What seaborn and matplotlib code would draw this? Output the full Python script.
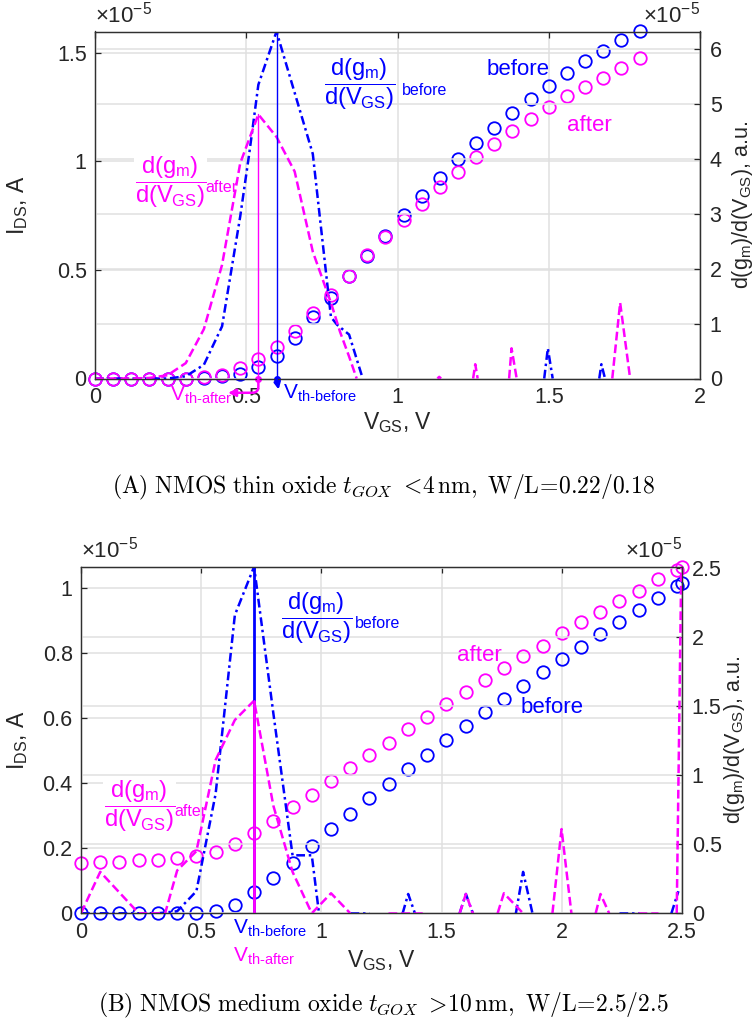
import numpy as np
import pandas as pd
import matplotlib
matplotlib.use("Agg")
import matplotlib.pyplot as plt
from matplotlib.ticker import FuncFormatter
import seaborn as sns

# ---------------- panel (A): thin oxide, W/L = 0.22/0.18 ----------------
vgs_a = [0.00, 0.06, 0.12, 0.18, 0.24, 0.30, 0.36, 0.42, 0.48, 0.54,
         0.60, 0.66, 0.72, 0.78, 0.84, 0.90, 0.96, 1.02, 1.08, 1.14,
         1.20, 1.26, 1.32, 1.38, 1.44, 1.50, 1.56, 1.62, 1.68, 1.74, 1.80]
# drain current, units of 1e-5 A
ids_before_a = [0, 0, 0, 0, 0, 0, 0.003, 0.010, 0.020, 0.053,
                0.105, 0.187, 0.281, 0.373, 0.470, 0.562, 0.655, 0.755, 0.841, 0.924,
                1.009, 1.083, 1.155, 1.224, 1.286, 1.349, 1.406, 1.460, 1.509, 1.557, 1.598]
ids_after_a = [0, 0, 0, 0, 0, 0, 0.005, 0.015, 0.047, 0.089,
               0.147, 0.221, 0.301, 0.385, 0.473, 0.567, 0.652, 0.729, 0.803, 0.880,
               0.952, 1.020, 1.080, 1.141, 1.194, 1.249, 1.300, 1.344, 1.386, 1.432, 1.474]
# d(gm)/d(VGS), units of 1e-5 a.u.; None separates visible pieces of the trace
dgm_x_before_a = [0, 0.06, 0.12, 0.18, 0.24, 0.30, 0.36, 0.42, 0.45, 0.48, 0.51, 0.54,
                  0.60, 0.72, 0.78, 0.80, 0.84, 0.885, None,
                  1.485, 1.497, 1.513, None, 1.667, 1.674, 1.686]
dgm_y_before_a = [0, 0, 0, 0, 0, 0.04, 0.25, 0.95, 1.95, 2.95, 4.10, 5.35,
                  6.32, 4.09, 1.12, 0.98, 0.80, 0, None,
                  0, 0.55, 0, None, 0, 0.26, 0]
dgm_x_after_a = [0, 0.06, 0.12, 0.18, 0.24, 0.30, 0.36, 0.42, 0.48, 0.54,
                 0.60, 0.66, 0.72, 0.78, 0.81, 0.84, 0.865, None,
                 1.132, 1.138, 1.144, None, 1.250, 1.257, 1.265, None,
                 1.369, 1.377, 1.394, None, 1.710, 1.736, 1.769]
dgm_y_after_a = [0, 0, 0, 0.01, 0.06, 0.28, 0.90, 2.07, 3.92, 4.81,
                 4.40, 3.77, 2.31, 1.38, 0.85, 0.40, 0, None,
                 0, 0.03, 0, None, 0, 0.26, 0, None,
                 0, 0.55, 0, None, 0, 1.38, 0]
vth_before_a, vth_after_a = 0.60, 0.54

# ---------------- panel (B): medium oxide, W/L = 2.5/2.5 ----------------
vgs_b = [0.00, 0.08, 0.16, 0.24, 0.32, 0.40, 0.48, 0.56, 0.64, 0.72, 0.80,
         0.88, 0.96, 1.04, 1.12, 1.20, 1.28, 1.36, 1.44, 1.52, 1.60, 1.68,
         1.76, 1.84, 1.92, 2.00, 2.08, 2.16, 2.24, 2.32, 2.40, 2.48, 2.50]
ids_before_b = [0, 0, 0, 0, 0, 0.001, 0.002, 0.008, 0.026, 0.065, 0.110,
                0.156, 0.207, 0.258, 0.306, 0.354, 0.398, 0.444, 0.488, 0.533, 0.576, 0.618,
                0.658, 0.700, 0.741, 0.782, 0.820, 0.858, 0.896, 0.933, 0.971, 1.007, 1.017]
ids_after_b = [0.154, 0.157, 0.159, 0.164, 0.164, 0.169, 0.177, 0.190, 0.212, 0.248, 0.285,
               0.326, 0.364, 0.407, 0.446, 0.487, 0.525, 0.566, 0.605, 0.643, 0.680, 0.716,
               0.754, 0.790, 0.823, 0.862, 0.896, 0.928, 0.959, 0.992, 1.028, 1.056, 1.066]
dgm_x_before_b = [0, 0.08, 0.16, 0.24, 0.32, 0.40, 0.48, 0.56, 0.64, 0.72, 0.80, 0.88, 0.96, 0.99, None,
                  1.12, 1.20, None, 1.338, 1.361, 1.389, None, 1.575, 1.601, 1.630, None,
                  1.809, 1.839, 1.878, None, 2.24, 2.32, None, 2.456, 2.485]
dgm_y_before_b = [0, 0, 0, 0, 0, 0.015, 0.16, 0.865, 2.16, 2.51, 1.45, 0.42, 0.42, 0, None,
                  0, 0, None, 0, 0.14, 0, None, 0, 0.14, 0, None,
                  0, 0.30, 0, None, 0, 0, None, 0, 0.16]
dgm_x_after_b = [0, 0.08, 0.24, 0.35, 0.40, 0.48, 0.56, 0.64, 0.72, 0.80, 0.88, 0.96, 1.04, 1.12, None,
                 1.278, 1.437, None, 1.575, 1.601, 1.630, None, 1.733, 1.759, 1.839, None,
                 1.961, 1.999, 2.040, None, 2.141, 2.161, 2.197, None, 2.317, 2.400, None,
                 2.478, 2.497]
dgm_y_after_b = [0, 0.30, 0, 0, 0.31, 0.45, 1.11, 1.40, 1.54, 0.78, 0.30, 0, 0.145, 0, None,
                 0, 0, None, 0, 0.14, 0, None, 0, 0.145, 0, None,
                 0, 0.61, 0, None, 0, 0.14, 0, None, 0, 0, None,
                 0, 2.51]
vth_before_b, vth_after_b = 0.72, 0.72

BLUE = "#0000ff"
MAGENTA = "#ff00ff"
INK = "#262626"
GRID = "#e0e0e0"

sns.set_theme(style="white")
plt.rcParams["font.family"] = ["Liberation Sans", "DejaVu Sans"]
plt.rcParams["mathtext.fontset"] = "custom"
plt.rcParams["mathtext.rm"] = "Liberation Sans"
plt.rcParams["mathtext.it"] = "Liberation Sans"
plt.rcParams["mathtext.default"] = "regular"


def trace_frame(xs, ys):
    rows, seg = [], 0
    for x, y in zip(xs, ys):
        if x is None:
            seg += 1
            continue
        rows.append((x, y, seg))
    return pd.DataFrame(rows, columns=["vgs", "val", "seg"])


fmt = FuncFormatter(lambda v, p: f"{v:g}")


def panel(ax, vgs, ib, ia, dxb, dyb, dxa, dya, xmax, ylim_l, ylim_r, lticks, rticks):
    ax2 = ax.twinx()
    for a in (ax, ax2):
        a.set_xlim(0, xmax)
        for s in a.spines.values():
            s.set_color("#303030")
            s.set_linewidth(0.9)
    ax.set_ylim(0, ylim_l)
    ax2.set_ylim(0, ylim_r)
    ax.set_yticks(lticks)
    ax2.set_yticks(rticks)
    ax.set_xticks(np.arange(0, xmax + 0.01, 0.5))
    ax.xaxis.set_major_formatter(fmt)
    ax.yaxis.set_major_formatter(fmt)
    ax2.yaxis.set_major_formatter(fmt)
    ax.grid(True, color=GRID, lw=1.1)
    ax2.grid(True, axis="y", color=GRID, lw=1.1)
    ax.set_axisbelow(True)
    ax2.set_axisbelow(True)
    ax.tick_params(axis="both", direction="in", length=4.5, width=0.9, colors=INK,
                   labelsize=15.5, top=True, right=False, pad=6)
    ax2.tick_params(axis="y", direction="in", length=4.5, width=0.9, colors=INK,
                    labelsize=15.5, pad=7)

    # drain-current circles
    cur = pd.DataFrame({"vgs": vgs, "before": ib, "after": ia})
    sns.lineplot(data=cur, x="vgs", y="before", ax=ax, marker="o", linestyle="",
                 ms=9, mfc="none", mec=BLUE, mew=1.3, color=BLUE, clip_on=False)
    sns.lineplot(data=cur, x="vgs", y="after", ax=ax, marker="o", linestyle="",
                 ms=9, mfc="none", mec=MAGENTA, mew=1.3, color=MAGENTA, clip_on=False)

    # transconductance derivative traces
    db = trace_frame(dxb, dyb)
    da = trace_frame(dxa, dya)
    sns.lineplot(data=db, x="vgs", y="val", units="seg", estimator=None, ax=ax2,
                 color=BLUE, lw=1.8, linestyle=(0, (3.5, 1.5, 1, 1.5)))
    sns.lineplot(data=da, x="vgs", y="val", units="seg", estimator=None, ax=ax2,
                 color=MAGENTA, lw=1.8, linestyle=(0, (3.5, 1.6)))
    for a in (ax, ax2):
        a.set_xlabel("")
        a.set_ylabel("")
    return ax2


FRAC = r"$\dfrac{d(g_m)}{d(V_{GS})}$"

fig = plt.figure(figsize=(7.55, 10.25), dpi=100)
W, H = 755.0, 1025.0
ax_a = fig.add_axes([95 / W, 1 - 378.5 / H, 605 / W, 347 / H])
ax_b = fig.add_axes([81 / W, 1 - 913.3 / H, 601 / W, 346.6 / H])

# ----- panel A -----
r_a = panel(ax_a, vgs_a, ids_before_a, ids_after_a, dgm_x_before_a, dgm_y_before_a,
            dgm_x_after_a, dgm_y_after_a, 2.0, max(ids_before_a), 6.32,
            [0, 0.5, 1, 1.5], [0, 1, 2, 3, 4, 5, 6])
peak_b_a = max(v for v in dgm_y_before_a if v is not None)
peak_a_a = max(v for v in dgm_y_after_a if v is not None)
r_a.plot([vth_after_a, vth_after_a], [0, peak_a_a], color=MAGENTA, lw=1.0)
r_a.plot([vth_before_a, vth_before_a], [0, peak_b_a], color=BLUE, lw=1.0)
r_a.plot([vth_after_a], [0], "o", ms=4, color=MAGENTA, clip_on=False)
r_a.plot([vth_before_a], [0], "o", ms=4, color=BLUE, clip_on=False)
r_a.annotate("", xy=(0.44, -0.26), xytext=(vth_after_a, 0), annotation_clip=False,
             arrowprops=dict(arrowstyle="-|>", color=MAGENTA, lw=1.8, shrinkA=0, shrinkB=0,
                             mutation_scale=11,
                             connectionstyle="angle,angleA=90,angleB=0,rad=6"))
r_a.annotate("", xy=(0.607, -0.2), xytext=(vth_before_a, 0), annotation_clip=False,
             arrowprops=dict(arrowstyle="-|>", color=BLUE, lw=1.8, shrinkA=0, shrinkB=0,
                             mutation_scale=9))
r_a.text(0.248, -0.3, r"V$_{th\text{-}after}$", color=MAGENTA, fontsize=15,
         ha="left", va="center", clip_on=False)
r_a.text(0.622, -0.27, r"V$_{th\text{-}before}$", color=BLUE, fontsize=15,
         ha="left", va="center", clip_on=False)
r_a.text(0.875, 5.35, FRAC, color=BLUE, fontsize=17, ha="center", va="center")
r_a.text(1.015, 5.25, "before", color=BLUE, fontsize=11.5, ha="left", va="center")
r_a.text(0.250, 3.58, FRAC, color=MAGENTA, fontsize=17, ha="center", va="center",
         bbox=dict(facecolor="white", edgecolor="none", pad=0.3))
r_a.text(0.366, 3.48, "after", color=MAGENTA, fontsize=11.5, ha="left", va="center")
r_a.text(1.397, 5.62, "before", color=BLUE, fontsize=16, ha="center", va="center")
r_a.text(1.633, 4.60, "after", color=MAGENTA, fontsize=16, ha="center", va="center")

# ----- panel B -----
r_b = panel(ax_b, vgs_b, ids_before_b, ids_after_b, dgm_x_before_b, dgm_y_before_b,
            dgm_x_after_b, dgm_y_after_b, 2.5, max(ids_after_b), 2.51,
            [0, 0.2, 0.4, 0.6, 0.8, 1], [0, 0.5, 1, 1.5, 2, 2.5])
peak_b_b = max(v for v in dgm_y_before_b if v is not None)
peak_a_b = 1.54
r_b.plot([vth_before_b, vth_before_b], [0, peak_b_b], color=BLUE, lw=2.0)
r_b.plot([vth_after_b, vth_after_b], [0, peak_a_b], color=MAGENTA, lw=2.0)
r_b.text(0.632, -0.11, r"V$_{th\text{-}before}$", color=BLUE, fontsize=15,
         ha="left", va="center", clip_on=False)
r_b.text(0.632, -0.31, r"V$_{th\text{-}after}$", color=MAGENTA, fontsize=15,
         ha="left", va="center", clip_on=False)
r_b.text(0.980, 2.135, FRAC, color=BLUE, fontsize=17, ha="center", va="center")
r_b.text(1.140, 2.10, "before", color=BLUE, fontsize=11.5, ha="left", va="center")
r_b.text(0.244, 0.773, FRAC, color=MAGENTA, fontsize=17, ha="center", va="center",
         bbox=dict(facecolor="white", edgecolor="none", pad=0.3))
r_b.text(0.390, 0.74, "after", color=MAGENTA, fontsize=11.5, ha="left", va="center")
r_b.text(1.657, 1.867, "after", color=MAGENTA, fontsize=16, ha="center", va="center")
r_b.text(1.958, 1.493, "before", color=BLUE, fontsize=16, ha="center", va="center")

# ----- shared axis decorations -----
for ax, r, lx, rx, xly in ((ax_a, r_a, -0.107, 1.050, -0.092),
                           (ax_b, r_b, -0.085, 1.066, -0.100)):
    ax.set_ylabel(r"I$_{DS}$, A", fontsize=16.5, color=INK)
    ax.yaxis.set_label_coords(lx, 0.5)
    r.set_ylabel(r"d(g$_m$)/d(V$_{GS}$), a.u.", fontsize=15.5, color=INK, rotation=90)
    r.yaxis.set_label_coords(rx, 0.5)
    ax.set_xlabel(r"V$_{GS}$, V", fontsize=16.5, color=INK)
    ax.xaxis.set_label_coords(0.5, xly)
    ax.text(0.0, 1.012, r"$\times10^{-5}$", transform=ax.transAxes, fontsize=16,
            color=INK, ha="left", va="bottom")
    ax.text(1.0, 1.012, r"$\times10^{-5}$", transform=ax.transAxes, fontsize=16,
            color=INK, ha="right", va="bottom")

fig.text(0.508, 1 - 487 / H,
         r"$\mathrm{(A)\ NMOS\ thin\ oxide}\ \mathit{t_{GOX}}\ \mathrm{<\!4\,nm,\ W/L\!=\!0.22/0.18}$",
         ha="center", va="center", fontsize=17, math_fontfamily="cm", color="black")
fig.text(0.508, 1 - 1005 / H,
         r"$\mathrm{(B)\ NMOS\ medium\ oxide}\ \mathit{t_{GOX}}\ \mathrm{>\!10\,nm,\ W/L\!=\!2.5/2.5}$",
         ha="center", va="center", fontsize=17, math_fontfamily="cm", color="black")

fig.savefig("out.png", dpi=100, facecolor="white")
